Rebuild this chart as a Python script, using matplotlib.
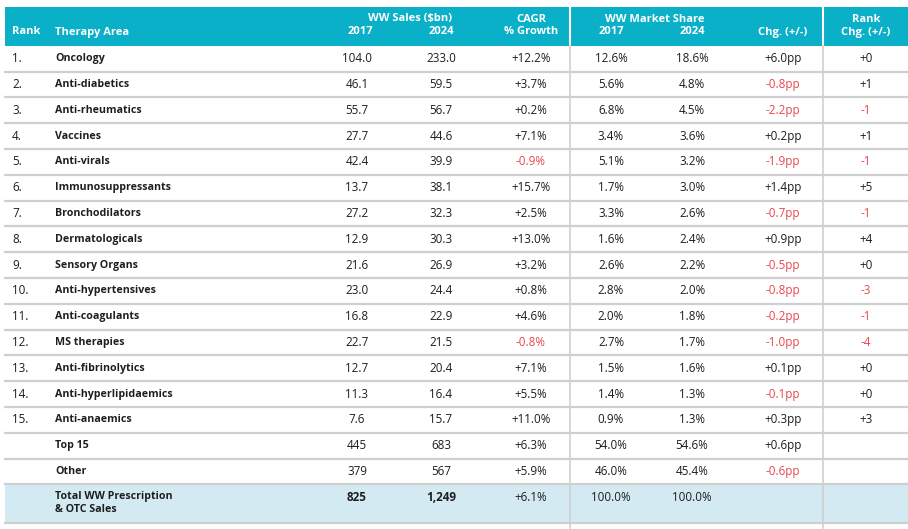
import matplotlib.pyplot as plt

# table data
ranks = ["1.", "2.", "3.", "4.", "5.", "6.", "7.", "8.", "9.", "10.", "11.", "12.", "13.", "14.", "15.", "", ""]
areas = ["Oncology", "Anti-diabetics", "Anti-rheumatics", "Vaccines", "Anti-virals",
         "Immunosuppressants", "Bronchodilators", "Dermatologicals", "Sensory Organs",
         "Anti-hypertensives", "Anti-coagulants", "MS therapies", "Anti-fibrinolytics",
         "Anti-hyperlipidaemics", "Anti-anaemics", "Top 15", "Other"]
sales_2017 = ["104.0", "46.1", "55.7", "27.7", "42.4", "13.7", "27.2", "12.9", "21.6",
              "23.0", "16.8", "22.7", "12.7", "11.3", "7.6", "445", "379"]
sales_2024 = ["233.0", "59.5", "56.7", "44.6", "39.9", "38.1", "32.3", "30.3", "26.9",
              "24.4", "22.9", "21.5", "20.4", "16.4", "15.7", "683", "567"]
cagr = ["+12.2%", "+3.7%", "+0.2%", "+7.1%", "-0.9%", "+15.7%", "+2.5%", "+13.0%", "+3.2%",
        "+0.8%", "+4.6%", "-0.8%", "+7.1%", "+5.5%", "+11.0%", "+6.3%", "+5.9%"]
share_2017 = ["12.6%", "5.6%", "6.8%", "3.4%", "5.1%", "1.7%", "3.3%", "1.6%", "2.6%",
              "2.8%", "2.0%", "2.7%", "1.5%", "1.4%", "0.9%", "54.0%", "46.0%"]
share_2024 = ["18.6%", "4.8%", "4.5%", "3.6%", "3.2%", "3.0%", "2.6%", "2.4%", "2.2%",
              "2.0%", "1.8%", "1.7%", "1.6%", "1.3%", "1.3%", "54.6%", "45.4%"]
share_chg = ["+6.0pp", "-0.8pp", "-2.2pp", "+0.2pp", "-1.9pp", "+1.4pp", "-0.7pp", "+0.9pp",
             "-0.5pp", "-0.8pp", "-0.2pp", "-1.0pp", "+0.1pp", "-0.1pp", "+0.3pp", "+0.6pp", "-0.6pp"]
rank_chg = ["+0", "+1", "-1", "+1", "-1", "+5", "-1", "+4", "+0", "-3", "-1", "-4",
            "+0", "+0", "+3", "", ""]
total_label = "Total WW Prescription\n& OTC Sales"
total_vals = ["825", "1,249", "+6.1%", "100.0%", "100.0%", "", ""]

CYAN = "#0aafc8"
LIGHT = "#d4eaf2"
RED = "#e8474f"
DARK = "#1e1e1e"
GRID = "#cfcfcf"
FONT = ["Open Sans", "DejaVu Sans"]
HSIZE = 8.0    # header
NSIZE = 7.7    # therapy names
VSIZE = 8.4    # numbers

fig = plt.figure(figsize=(9.08, 5.29), dpi=100)
ax = fig.add_axes([0, 0, 1, 1])
ax.set_xlim(0, 908)
ax.set_ylim(529, 0)
ax.axis("off")

x_rank, x_area = 12, 55
x_cols = [357, 441, 531, 611, 692, 783, 866]

# header band
ax.add_patch(plt.Rectangle((5, 7), 903, 39, color=CYAN, lw=0))
for xv in [570, 823]:
    ax.plot([xv, xv], [7, 46], color="white", lw=1.5)

hkw = dict(color="white", fontweight="bold", fontsize=HSIZE, family=FONT, va="center")
ax.text(x_rank, 32, "Rank", ha="left", **hkw)
ax.text(x_area, 32, "Therapy Area", ha="left", **hkw)
ax.text(410, 19, "WW Sales ($bn)", ha="center", **hkw)
ax.text(x_cols[0] + 3, 32, "2017", ha="center", **hkw)
ax.text(x_cols[1], 32, "2024", ha="center", **hkw)
ax.text(x_cols[2], 19, "CAGR", ha="center", **hkw)
ax.text(x_cols[2], 32, "% Growth", ha="center", **hkw)
ax.text(655, 19, "WW Market Share", ha="center", **hkw)
ax.text(x_cols[3], 32, "2017", ha="center", **hkw)
ax.text(x_cols[4], 32, "2024", ha="center", **hkw)
ax.text(x_cols[5], 32, "Chg. (+/-)", ha="center", **hkw)
ax.text(x_cols[6], 19, "Rank", ha="center", **hkw)
ax.text(x_cols[6], 32, "Chg. (+/-)", ha="center", **hkw)

row_h = 25.8
top = 45.8
n = len(areas)

# total row band
total_top = top + row_h * n
ax.add_patch(plt.Rectangle((5, total_top), 903, 523 - total_top, color=LIGHT, lw=0))

# horizontal separators
for i in range(1, n + 1):
    y = top + row_h * i
    ax.plot([5, 908], [y, y], color=GRID, lw=1.6)
ax.plot([5, 908], [523, 523], color=GRID, lw=1.6)

# vertical separators
for xv in [570, 823]:
    ax.plot([xv, xv], [46, 528], color=GRID, lw=1.2)


def col_color(s):
    return RED if s.startswith("-") else DARK


for i in range(n):
    y = top + row_h * (i + 0.5)
    ax.text(x_rank, y, ranks[i], ha="left", va="center", color=DARK,
            fontsize=VSIZE, family=FONT)
    ax.text(x_area, y, areas[i], ha="left", va="center", color=DARK,
            fontweight="bold", fontsize=NSIZE, family=FONT)
    vals = [sales_2017[i], sales_2024[i], cagr[i], share_2017[i], share_2024[i],
            share_chg[i], rank_chg[i]]
    for j, (xv, v) in enumerate(zip(x_cols, vals)):
        c = col_color(v) if j in (2, 5, 6) else DARK
        ax.text(xv, y, v, ha="center", va="center", color=c,
                fontsize=VSIZE, family=FONT)

# total row
ty = total_top + 19
ax.text(x_area, ty, total_label, ha="left", va="center", color=DARK,
        fontweight="bold", fontsize=NSIZE, family=FONT, linespacing=1.25)
for j, (xv, v) in enumerate(zip(x_cols, total_vals)):
    fw = "bold" if j < 2 else "normal"
    ax.text(xv, total_top + 13, v, ha="center", va="center", color=DARK, fontweight=fw,
            fontsize=VSIZE, family=FONT)

fig.savefig("out.png", dpi=100)
